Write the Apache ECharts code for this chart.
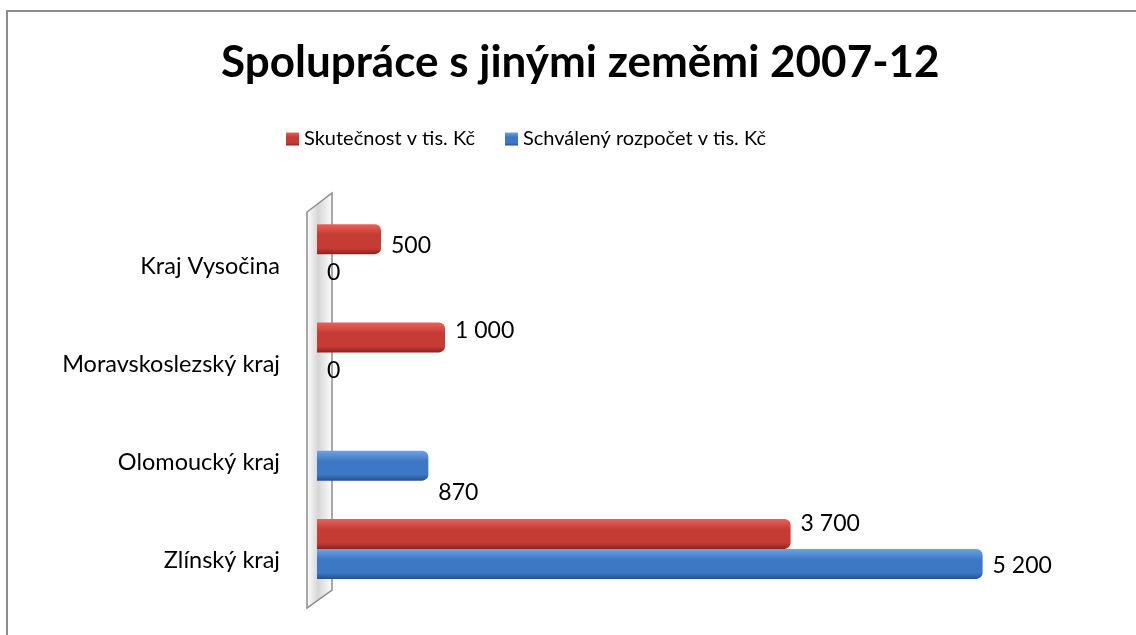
<!DOCTYPE html>
<html>
<head>
<meta charset="utf-8">
<script src="https://cdn.jsdelivr.net/npm/echarts@6/dist/echarts.min.js"></script>
<style>
  html, body { margin: 0; padding: 0; background: #fff; }
  #chart { width: 1136px; height: 635px; }
</style>
</head>
<body>
<div id="chart"></div>
<script>
// regions, bottom to top as on the axis
var regions = ['Zlínský kraj', 'Olomoucký kraj', 'Moravskoslezský kraj', 'Kraj Vysočina'];
var actual = [3700, null, 1000, 500];   // Skutečnost v tis. Kč
var budget = [5200, 870, 0, 0];         // Schválený rozpočet v tis. Kč
var seriesNames = ['Skutečnost v tis. Kč', 'Schválený rozpočet v tis. Kč'];

// small nudges for the data labels, like excel put them
var actualLabelShift = [-10, 0, -7, 6];
var budgetLabelShift = [2, 27, 3, 3];

var font = 'Lato, "Open Sans", sans-serif';

function fmt(v) {
    return String(v).replace(/\B(?=(\d{3})+(?!\d))/g, ' ');
}

function grad(light, mid, dark) {
    return new echarts.graphic.LinearGradient(0, 0, 0, 1, [
        { offset: 0, color: light },
        { offset: 0.35, color: mid },
        { offset: 0.8, color: mid },
        { offset: 1, color: dark }
    ]);
}

function withLabels(values, shifts) {
    return values.map(function (v, i) {
        return {
            value: v,
            label: { offset: [0, shifts[i]] }
        };
    });
}

var myChart = echarts.init(document.getElementById('chart'));

myChart.setOption({
    animation: false,
    textStyle: { fontFamily: font },
    title: {
        text: 'Spolupráce s jinými zeměmi 2007-12',
        left: 216,
        top: 36,
        textStyle: { fontFamily: font, fontSize: 44, fontWeight: 'bold', color: '#000' }
    },
    legend: {
        data: seriesNames,
        top: 124,
        left: 281,
        icon: 'rect',
        itemWidth: 13,
        itemHeight: 13,
        itemGap: 30,
        textStyle: { fontFamily: font, fontSize: 20, color: '#000' }
    },
    grid: { left: 317, right: 51, top: 205, bottom: 37 },
    xAxis: {
        type: 'value',
        min: 0,
        max: 6000,
        show: false
    },
    yAxis: {
        type: 'category',
        data: regions,
        axisLine: { show: false },
        axisTick: { show: false },
        axisLabel: {
            margin: 37,
            fontFamily: font,
            fontSize: 23.5,
            color: '#000',
            verticalAlign: 'top'
        }
    },
    graphic: [
        {   // outer frame (left + top only)
            type: 'polyline',
            shape: { points: [[7, 635], [7, 11], [1136, 11]] },
            style: { stroke: '#8c8c8c', lineWidth: 2, fill: null }
        },
        {   // the 3d back wall
            type: 'polygon',
            shape: { points: [[307, 212], [332, 193], [332, 590], [307, 608]] },
            style: {
                stroke: '#8c8c8c',
                lineWidth: 1.5,
                fill: new echarts.graphic.LinearGradient(0, 0, 1, 0, [
                    { offset: 0, color: '#ffffff' },
                    { offset: 0.45, color: '#d6d6d6' },
                    { offset: 1, color: '#ffffff' }
                ])
            }
        }
    ],
    series: [
        {
            name: seriesNames[0],
            type: 'bar',
            data: withLabels(actual, actualLabelShift),
            barWidth: 30,
            barGap: '0%',
            itemStyle: {
                color: grad('#e8625a', '#c53c35', '#8e221d'),
                borderRadius: [0, 6, 6, 0]
            },
            label: {
                show: true,
                position: 'right',
                distance: 10,
                fontFamily: font,
                fontSize: 23,
                color: '#000',
                formatter: function (p) { return p.value == null ? '' : fmt(p.value); }
            }
        },
        {
            name: seriesNames[1],
            type: 'bar',
            data: withLabels(budget, budgetLabelShift),
            barWidth: 30,
            barGap: '0%',
            itemStyle: {
                color: grad('#6fa3e3', '#3d78c6', '#24528f'),
                borderRadius: [0, 6, 6, 0]
            },
            label: {
                show: true,
                position: 'right',
                distance: 10,
                fontFamily: font,
                fontSize: 23,
                color: '#000',
                formatter: function (p) { return fmt(p.value); }
            }
        }
    ]
});
</script>
</body>
</html>
